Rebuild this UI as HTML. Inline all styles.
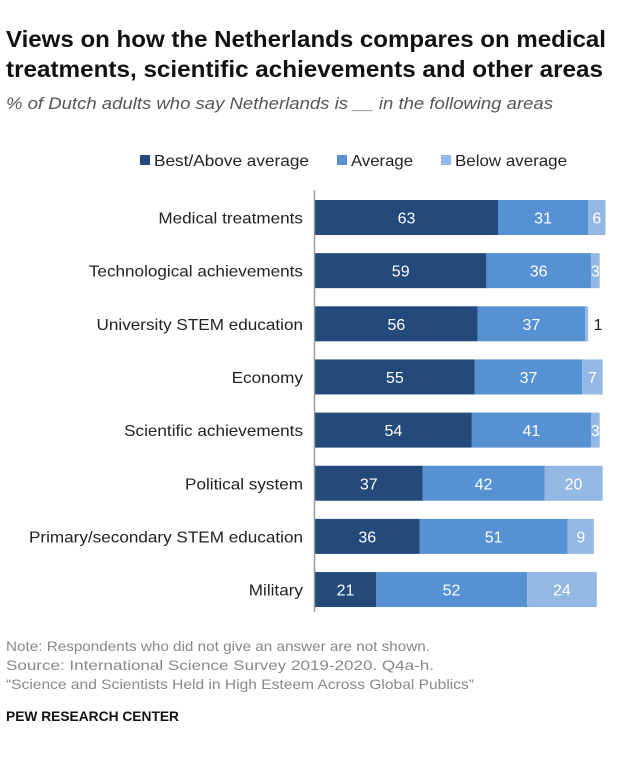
<!DOCTYPE html>
<html><head><meta charset="utf-8"><style>
body{margin:0;background:#fff;width:640px;height:754px;overflow:hidden;font-family:"Liberation Sans",sans-serif}
</style></head><body>
<svg width="640" height="754" xmlns="http://www.w3.org/2000/svg">
<text x="6" y="47" font-size="23" font-weight="bold" fill="#111" textLength="600" lengthAdjust="spacingAndGlyphs">Views on how the Netherlands compares on medical</text>
<text x="6" y="77" font-size="23" font-weight="bold" fill="#111" textLength="597" lengthAdjust="spacingAndGlyphs">treatments, scientific achievements and other areas</text>
<text x="6" y="109" font-size="17" font-style="italic" fill="#555" textLength="547" lengthAdjust="spacingAndGlyphs">% of Dutch adults who say Netherlands is __ in the following areas</text>
<g>
<rect x="140" y="155" width="10" height="10" fill="#234a7b"/>
<text x="154" y="166" font-size="16" fill="#222" textLength="155" lengthAdjust="spacingAndGlyphs">Best/Above average</text>
<rect x="337" y="155" width="10" height="10" fill="#5691d4"/>
<text x="351" y="166" font-size="16" fill="#222" textLength="62" lengthAdjust="spacingAndGlyphs">Average</text>
<rect x="441" y="155" width="10" height="10" fill="#93b8e3"/>
<text x="455" y="166" font-size="16" fill="#222" textLength="112" lengthAdjust="spacingAndGlyphs">Below average</text>
</g>
<g id="bars"></g>
<line x1="314.5" y1="190" x2="314.5" y2="612" stroke="#999" stroke-width="1.5"/>
<text x="6" y="651" font-size="14" fill="#888" textLength="424" lengthAdjust="spacingAndGlyphs">Note: Respondents who did not give an answer are not shown.</text>
<text x="6" y="670" font-size="14" fill="#888" textLength="428" lengthAdjust="spacingAndGlyphs">Source: International Science Survey 2019-2020. Q4a-h.</text>
<text x="6" y="689" font-size="14" fill="#888" textLength="468" lengthAdjust="spacingAndGlyphs">“Science and Scientists Held in High Esteem Across Global Publics”</text>
<text x="6" y="721" font-size="14" font-weight="bold" fill="#111" textLength="173" lengthAdjust="spacingAndGlyphs">PEW RESEARCH CENTER</text>
</svg>
<script>
const categories=["Medical treatments","Technological achievements","University STEM education","Economy","Scientific achievements","Political system","Primary/secondary STEM education","Military"];
const best=[63,59,56,55,54,37,36,21];
const average=[31,36,37,37,41,42,51,52];
const below=[6,3,1,7,3,20,9,24];
const x0=315,scale=2.905,rowTop=200,rowStep=53.15,barH=35;
const xs=v=>v*scale;
const g=document.getElementById('bars');
const NS="http://www.w3.org/2000/svg";
function mk(tag,attrs){const e=document.createElementNS(NS,tag);for(const k in attrs)e.setAttribute(k,attrs[k]);return e;}
categories.forEach((c,i)=>{
 const y=rowTop+i*rowStep;
 const lab=mk('text',{x:303,y:y+barH/2+6,'font-size':16,fill:'#222','text-anchor':'end'});
 lab.textContent=c;
 
 
 g.appendChild(lab);
 const L=lab.getComputedTextLength();
 lab.setAttribute('textLength',L*1.07);
 lab.setAttribute('lengthAdjust','spacingAndGlyphs');
 const segs=[[best[i],'#234a7b','best'],[average[i],'#5691d4','average'],[below[i],'#93b8e3','below']];
 let x=x0;
 segs.forEach(([v,col,nm])=>{
  const w=xs(v);
  const r=mk('rect',{x:x,y:y,width:w,height:barH,fill:col});
  
  
  g.appendChild(r);
  const t=mk('text',{'font-size':16,'text-anchor':'middle',y:y+barH/2+6});
  if(w<8){t.setAttribute('x',x+w+10);t.setAttribute('fill','#222');}
  else{t.setAttribute('x',x+w/2);t.setAttribute('fill','#fff');}
  t.textContent=v;
  
  
  g.appendChild(t);
  x+=w;
 });
});
</script>
</body></html>
